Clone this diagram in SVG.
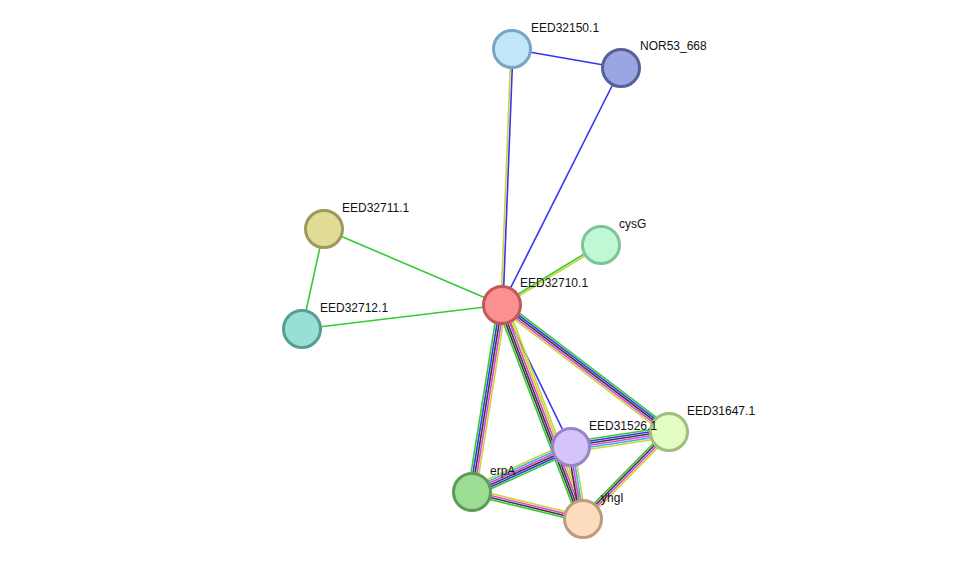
<svg xmlns="http://www.w3.org/2000/svg" width="975" height="565" viewBox="0 0 975 565">
<style>
line{stroke-width:1.6;fill:none}
.g{stroke:#33cc33}.b{stroke:#3535f0}.k{stroke:#3a3a3a}.m{stroke:#e040e0}.y{stroke:#c8d43c}.c{stroke:#30b8e0}
circle{stroke-width:3}
text{font-family:"Liberation Sans",Arial,sans-serif;font-size:12px;fill:#111}
</style>
<rect width="975" height="565" fill="#fff"/>
<g id="connectors">
<g transform="translate(512,49) rotate(92.24)"><line class="b" x1="0" y1="-1" x2="256.2" y2="-1"/><line class="y" x1="0" y1="1" x2="256.2" y2="1"/></g>
<g transform="translate(512,49) rotate(9.89)"><line class="b" x1="0" y1="0" x2="110.6" y2="0"/></g>
<g transform="translate(621,68) rotate(116.66)"><line class="b" x1="0" y1="0" x2="265.2" y2="0"/></g>
<g transform="translate(324,229) rotate(23.12)"><line class="g" x1="0" y1="0" x2="193.5" y2="0"/></g>
<g transform="translate(324,229) rotate(102.4)"><line class="g" x1="0" y1="0" x2="102.4" y2="0"/></g>
<g transform="translate(302,329) rotate(-6.84)"><line class="g" x1="0" y1="0" x2="201.4" y2="0"/></g>
<g transform="translate(502,305) rotate(-31.22)"><line class="g" x1="0" y1="-1" x2="115.8" y2="-1"/><line class="y" x1="0" y1="1" x2="115.8" y2="1"/></g>
<g transform="translate(502,305) rotate(37.25)"><line class="g" x1="0" y1="-4" x2="209.8" y2="-4"/><line class="b" x1="0" y1="-2" x2="209.8" y2="-2"/><line class="k" x1="0" y1="0" x2="209.8" y2="0"/><line class="m" x1="0" y1="2" x2="209.8" y2="2"/><line class="y" x1="0" y1="4" x2="209.8" y2="4"/></g>
<g transform="translate(502,305) rotate(64.08)"><line class="b" x1="0" y1="0" x2="157.9" y2="0"/></g>
<g transform="translate(502,305) rotate(69.27)"><line class="g" x1="0" y1="5" x2="228.8" y2="5"/><line class="k" x1="0" y1="3" x2="228.8" y2="3"/><line class="k" x1="0" y1="1" x2="228.8" y2="1"/><line class="m" x1="0" y1="-1" x2="228.8" y2="-1"/><line class="y" x1="0" y1="-3" x2="228.8" y2="-3"/><line class="y" x1="0" y1="-5" x2="228.8" y2="-5"/></g>
<g transform="translate(502,305) rotate(99.11)"><line class="y" x1="0" y1="-4" x2="189.4" y2="-4"/><line class="m" x1="0" y1="-2" x2="189.4" y2="-2"/><line class="k" x1="0" y1="0" x2="189.4" y2="0"/><line class="b" x1="0" y1="2" x2="189.4" y2="2"/><line class="g" x1="0" y1="4" x2="189.4" y2="4"/></g>
<g transform="translate(571,447) rotate(-8.70)"><line class="g" x1="0" y1="-5" x2="99.1" y2="-5"/><line class="b" x1="0" y1="-3" x2="99.1" y2="-3"/><line class="k" x1="0" y1="-1" x2="99.1" y2="-1"/><line class="m" x1="0" y1="1" x2="99.1" y2="1"/><line class="c" x1="0" y1="3" x2="99.1" y2="3"/><line class="y" x1="0" y1="5" x2="99.1" y2="5"/></g>
<g transform="translate(571,447) rotate(155.56)"><line class="y" x1="0" y1="5" x2="108.7" y2="5"/><line class="c" x1="0" y1="3" x2="108.7" y2="3"/><line class="m" x1="0" y1="1" x2="108.7" y2="1"/><line class="k" x1="0" y1="-1" x2="108.7" y2="-1"/><line class="b" x1="0" y1="-3" x2="108.7" y2="-3"/><line class="g" x1="0" y1="-5" x2="108.7" y2="-5"/></g>
<g transform="translate(571,447) rotate(80.54)"><line class="k" x1="0" y1="3" x2="73" y2="3"/><line class="m" x1="0" y1="1" x2="73" y2="1"/><line class="c" x1="0" y1="-1" x2="73" y2="-1"/><line class="y" x1="0" y1="-3" x2="73" y2="-3"/></g>
<g transform="translate(472,492) rotate(13.67)"><line class="y" x1="0" y1="-3" x2="114.2" y2="-3"/><line class="m" x1="0" y1="-1" x2="114.2" y2="-1"/><line class="k" x1="0" y1="1" x2="114.2" y2="1"/><line class="g" x1="0" y1="3" x2="114.2" y2="3"/></g>
<g transform="translate(669,432) rotate(134.67)"><line class="g" x1="0" y1="3" x2="122.3" y2="3"/><line class="k" x1="0" y1="1" x2="122.3" y2="1"/><line class="m" x1="0" y1="-1" x2="122.3" y2="-1"/><line class="y" x1="0" y1="-3" x2="122.3" y2="-3"/></g>
</g>
<g id="EED32150.1"><circle cx="512" cy="49" r="18.5" fill="#c0e6fa" stroke="#7ba3c4"/><text x="531" y="32">EED32150.1</text></g>
<g id="NOR53_668"><circle cx="621" cy="68" r="18.5" fill="#9aa6e2" stroke="#56619a"/><text x="640" y="50">NOR53_668</text></g>
<g id="EED32711.1"><circle cx="324" cy="229" r="18.5" fill="#e0dc98" stroke="#9c9a58"/><text x="342" y="212">EED32711.1</text></g>
<g id="cysG"><circle cx="601" cy="245" r="18.5" fill="#c0f8d6" stroke="#7ec49a"/><text x="619" y="228">cysG</text></g>
<g id="EED32710.1"><circle cx="502" cy="305" r="18.5" fill="#fb9090" stroke="#c05858"/><text x="520" y="287">EED32710.1</text></g>
<g id="EED32712.1"><circle cx="302" cy="329" r="18.5" fill="#98e0d6" stroke="#549e96"/><text x="320" y="312">EED32712.1</text></g>
<g id="EED31647.1"><circle cx="669" cy="432" r="18.5" fill="#e2fcc4" stroke="#a0be7e"/><text x="687" y="415">EED31647.1</text></g>
<g id="EED31526.1"><circle cx="571" cy="447" r="18.5" fill="#d4c4fa" stroke="#9a84c8"/><text x="589" y="430">EED31526.1</text></g>
<g id="erpA"><circle cx="472" cy="492" r="18.5" fill="#9cdc94" stroke="#5c9c54"/><text x="490" y="475">erpA</text></g>
<g id="yhgI"><circle cx="583" cy="519" r="18.5" fill="#fcdcbc" stroke="#bc9c7c"/><text x="601" y="502">yhgI</text></g>
</svg>
